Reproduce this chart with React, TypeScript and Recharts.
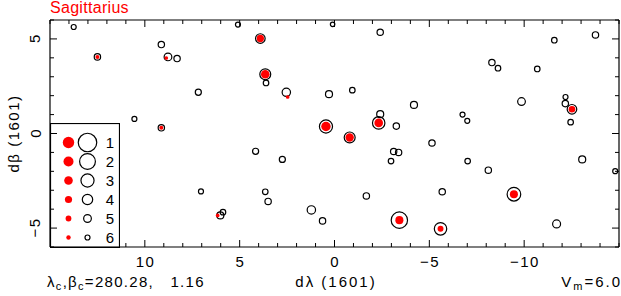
import React from 'react';
import { ScatterChart, Scatter, XAxis, YAxis, Legend } from 'recharts';

// Stars drawn as open black circles (modern positions), magnitude sets the ring size
const circX = [13.75, 12.5, 9.13, 8.78, 8.3, 7.18, 10.55, 9.13, 5.09, 3.91, 3.65, 3.61, 2.54, 0.1, -2.41, 0.29, -0.94, 0.45, -2.41, -2.33, -3.26, -4.19, -6.75, -7.0, -8.3, -8.62, -9.86, -10.69, -11.59, -13.76, -12.18, -12.17, -12.52, -12.45, 4.16, 2.75, 7.04, 3.65, 3.5, 1.22, 6.02, 5.88, 0.63, -0.8, -5.14, -3.12, -3.38, -2.98, -7.02, -8.11, -13.06, -14.8, -1.68, -5.68, -9.46, -3.42, -5.59, -11.71];
const circY = [5.63, 4.05, 4.7, 4.05, 3.96, 2.18, 0.77, 0.3, 5.76, 5.02, 3.13, 2.67, 2.18, 5.77, 5.35, 2.08, 2.29, 0.37, 1.02, 0.56, 0.39, 1.51, 1.0, 0.67, 3.75, 3.45, 1.69, 3.41, 4.93, 5.21, 1.93, 1.58, 1.28, 0.6, -0.94, -1.37, -3.06, -3.08, -3.59, -4.04, -4.33, -4.16, -4.62, -0.21, -0.5, -0.95, -1.0, -1.46, -1.46, -1.94, -1.37, -1.99, -3.3, -3.08, -3.21, -4.58, -5.04, -4.78];
const circMag = [6.0, 5.5, 5.5, 5.0, 5.5, 5.6, 6.0, 5.5, 6.0, 4.3, 3.8, 5.8, 4.75, 6.2, 5.5, 5.25, 5.8, 3.0, 5.25, 3.25, 5.5, 5.25, 6.0, 6.0, 5.5, 5.8, 5.0, 5.8, 5.8, 5.5, 6.0, 5.5, 4.3, 5.8, 5.6, 5.6, 6.0, 5.8, 5.5, 4.75, 5.25, 5.8, 5.5, 3.8, 5.5, 5.5, 5.5, 5.8, 5.8, 5.5, 5.25, 6.0, 5.5, 5.5, 2.8, 1.8, 3.25, 4.9];

// Stars of the 1601 catalogue drawn as red dots
const redX = [12.5, 8.87, 9.13, 3.91, 3.65, 2.47, 0.45, -0.8, -2.33, -12.52, 6.16, -9.46, -3.42, -5.59];
const redY = [4.05, 3.99, 0.3, 5.02, 3.13, 1.93, 0.37, -0.21, 0.56, 1.28, -4.33, -3.21, -4.58, -5.04];
const redMag = [6.3, 6.5, 6.3, 3.9, 3.0, 6.5, 2.4, 3.2, 3.0, 4.4, 6.5, 3.4, 3.4, 4.9];

const legendMags = [1, 2, 3, 4, 5, 6];

const xDomain = [-15, 15];
const yDomain = [-6, 6];
const xTicks = [15, 14, 13, 12, 11, 10, 9, 8, 7, 6, 5, 4, 3, 2, 1, 0, -1, -2, -3, -4, -5, -6, -7, -8, -9, -10, -11, -12, -13, -14, -15];
const yTicks = [6, 5, 4, 3, 2, 1, 0, -1, -2, -3, -4, -5, -6];
const xMajor = [10, 5, 0, -5, -10];
const yMajor = [5, 0, -5];
const legendXLimit = 11.5;

const titleText = 'Sagittarius';
const yLabelText = 'd\u03B2 (1601)';
const xLabelText = 'd\u03BB (1601)';
const centerText = '=280.28,   1.16';
const vmText = '=6.0';

const FONT = '"Liberation Sans", Arial, Helvetica, sans-serif';
const RED = '#ff0000';

const ringR = (m: number) => 10.6 - 1.35 * m;
const dotR = (m: number) => 6.4 - 0.7 * m;

const circData = circX.map((x, i) => ({ x, y: circY[i], mag: circMag[i] }));
const redData = redX.map((x, i) => ({ x, y: redY[i], mag: redMag[i] }));

const fmt = (v: number) => (v < 0 ? '\u2212' + Math.abs(v) : String(v));

const Ring = (p: any) => (
  <circle cx={p.cx} cy={p.cy} r={ringR(p.payload.mag)} fill="none" stroke="#000" strokeWidth={1.2} />
);
const Dot = (p: any) => <circle cx={p.cx} cy={p.cy} r={dotR(p.payload.mag)} fill={RED} stroke="none" />;

const BottomTick = (p: any) => {
  const v = p.payload.value;
  const major = xMajor.includes(v);
  return (
    <g>
      {v <= legendXLimit && <line x1={p.x} x2={p.x} y1={p.y} y2={p.y - (major ? 7 : 4)} stroke="#000" />}
      {major && (
        <text x={p.x + 0.75} y={p.y + 20} textAnchor="middle" fontFamily={FONT} fontSize={15} letterSpacing={1.5} fill="#000">
          {fmt(v)}
        </text>
      )}
    </g>
  );
};
const TopTick = (p: any) => {
  const major = xMajor.includes(p.payload.value);
  return <line x1={p.x} x2={p.x} y1={p.y} y2={p.y + (major ? 7 : 4)} stroke="#000" />;
};
const LeftTick = (p: any) => {
  const v = p.payload.value;
  const major = yMajor.includes(v);
  const tx = p.x - 9.5;
  const ty = p.y - 0.75;
  return (
    <g>
      <line x1={p.x} x2={p.x + (major ? 7 : 4)} y1={p.y} y2={p.y} stroke="#000" />
      {major && (
        <text x={tx} y={ty} textAnchor="middle" fontFamily={FONT} fontSize={15} letterSpacing={1.5} fill="#000" transform={`rotate(-90 ${tx} ${ty})`}>
          {fmt(v)}
        </text>
      )}
    </g>
  );
};
const RightTick = (p: any) => {
  const major = yMajor.includes(p.payload.value);
  return <line x1={p.x} x2={p.x - (major ? 7 : 4)} y1={p.y} y2={p.y} stroke="#000" />;
};

const LegendBox = () => {
  const rowH = 19;
  return (
    <svg width={70} height={125} style={{ display: 'block' }}>
      <rect x={0.5} y={0.5} width={69} height={124} fill="none" stroke="#000" strokeWidth={1.2} />
      {legendMags.map((m, i) => {
        const cy = 19.5 + i * rowH;
        return (
          <g key={m}>
            <circle cx={18.5} cy={cy} r={dotR(m)} fill={RED} />
            <circle cx={37.5} cy={cy} r={ringR(m)} fill="none" stroke="#000" strokeWidth={1.2} />
            <text x={60} y={cy + 5.3} textAnchor="middle" fontFamily={FONT} fontSize={15} fill="#000">
              {m}
            </text>
          </g>
        );
      })}
    </svg>
  );
};

export default function App() {
  const axisLine = { stroke: '#000', strokeWidth: 1.2 };
  return (
    <div style={{ position: 'absolute', left: 0, top: 0, width: 621, height: 296, background: '#fff' }}>
      <ScatterChart width={621} height={296} margin={{ top: 0, right: 0, bottom: 0, left: 0 }}>
        <XAxis xAxisId="b" type="number" dataKey="x" domain={xDomain} reversed ticks={xTicks} interval={0}
          allowDataOverflow height={49} tickSize={0} tickMargin={0} tickLine={false} axisLine={axisLine} tick={<BottomTick />} />
        <XAxis xAxisId="t" orientation="top" type="number" dataKey="x" domain={xDomain} reversed ticks={xTicks} interval={0}
          allowDataOverflow height={20} tickSize={0} tickMargin={0} tickLine={false} axisLine={axisLine} tick={<TopTick />} />
        <YAxis yAxisId="l" type="number" dataKey="y" domain={yDomain} ticks={yTicks} interval={0}
          allowDataOverflow width={50} tickSize={0} tickMargin={0} tickLine={false} axisLine={axisLine} tick={<LeftTick />} />
        <YAxis yAxisId="r" orientation="right" type="number" dataKey="y" domain={yDomain} ticks={yTicks} interval={0}
          allowDataOverflow width={2} tickSize={0} tickMargin={0} tickLine={false} axisLine={axisLine} tick={<RightTick />} />
        <Scatter data={circData} xAxisId="b" yAxisId="l" shape={<Ring />} isAnimationActive={false} />
        <Scatter data={redData} xAxisId="t" yAxisId="r" shape={<Dot />} isAnimationActive={false} />
        <Legend layout="vertical" align="center" verticalAlign="middle" content={() => <LegendBox />}
          wrapperStyle={{ position: 'absolute', left: 50, top: 123, width: 70, height: 125, margin: 0 }} />
      </ScatterChart>
      <svg width={621} height={296} style={{ position: 'absolute', left: 0, top: 0, pointerEvents: 'none' }}>
        <text x={50} y={13} fontFamily={FONT} fontSize={16} letterSpacing={0.3} fill={RED}>{titleText}</text>
        <text x={19} y={133.5} textAnchor="middle" fontFamily={FONT} fontSize={15} letterSpacing={1.5} fill="#000" transform="rotate(-90 19 133.5)" style={{ whiteSpace: 'pre' }}>
          {yLabelText}
        </text>
        <text x={336} y={287} textAnchor="middle" fontFamily={FONT} fontSize={15} letterSpacing={2} fill="#000" style={{ whiteSpace: 'pre' }}>
          {xLabelText}
        </text>
        <text x={47} y={287} fontFamily={FONT} fontSize={15} letterSpacing={1.3} fill="#000" style={{ whiteSpace: 'pre' }}>
          {'\u03BB'}<tspan fontSize={11} dy={3}>c</tspan><tspan dy={-3}>,{'\u03B2'}</tspan><tspan fontSize={11} dy={3}>c</tspan><tspan dy={-3}>{centerText}</tspan>
        </text>
        <text x={622} y={287} textAnchor="end" fontFamily={FONT} fontSize={15} letterSpacing={2} fill="#000" style={{ whiteSpace: 'pre' }}>
          V<tspan fontSize={11} dy={3}>m</tspan><tspan dy={-3}>{vmText}</tspan>
        </text>
      </svg>
    </div>
  );
}
